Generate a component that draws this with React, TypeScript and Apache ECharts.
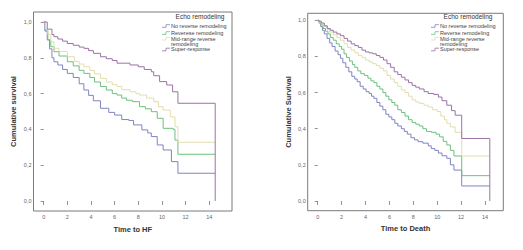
import React, { useEffect, useRef } from "react";
import * as echarts from "echarts";

// ---------- data ----------
const legendTitle = "Echo remodeling";
const hfGroupNames = ["No reverse remodeling", "Reverese remodeling", "Mid-range reverse\nremodeling", "Super-response"];
const deathGroupNames = ["No reverse remodeling", "Reverse remodeling", "Mid-range reverse\nremodeling", "Super-response"];
const groupColors = ["#7f84c2", "#6cc07e", "#e2dead", "#9b72a6"];

const xTicks = [0, 2, 4, 6, 8, 10, 12, 14];
const yTicks = [0, 0.2, 0.4, 0.6, 0.8, 1.0];

const hfXTitle = "Time to HF";
const hfYTitle = "Cumulative survival";
const deathXTitle = "Time to Death";
const deathYTitle = "Cumulative Survival";

// Time to HF
const hfNoReverse = [
  [0, 1.0], [0.1, 0.95], [0.3, 0.9], [0.5, 0.85], [0.7, 0.8], [0.87, 0.778], [1.2, 0.76], [1.6, 0.735],
  [2.0, 0.713], [2.5, 0.69], [3.0, 0.655], [3.4, 0.62], [3.8, 0.59], [4.2, 0.56], [4.8, 0.518], [5.5, 0.495],
  [6.0, 0.48], [6.6, 0.455], [7.2, 0.45], [7.6, 0.425], [8.3, 0.397], [8.8, 0.38], [9.1, 0.36], [9.6, 0.313],
  [10.1, 0.285], [10.8, 0.22], [11.35, 0.155], [14.5, 0.155],
];
const hfReverse = [
  [0, 1.0], [0.15, 0.95], [0.35, 0.9], [0.6, 0.862], [0.87, 0.834], [1.3, 0.81], [2.0, 0.778], [2.5, 0.755],
  [3.0, 0.73], [3.4, 0.713], [3.9, 0.69], [4.3, 0.665], [4.8, 0.64], [5.3, 0.62], [5.8, 0.6], [6.2, 0.592],
  [6.6, 0.575], [7.0, 0.563], [7.5, 0.555], [8.1, 0.527], [8.6, 0.515], [9.1, 0.499], [9.6, 0.462], [10.1, 0.406],
  [10.95, 0.4], [11.1, 0.34], [11.35, 0.261], [14.5, 0.261],
];
const hfMidRange = [
  [0, 1.0], [0.15, 0.96], [0.35, 0.93], [0.6, 0.89], [0.87, 0.853], [1.3, 0.835], [2.0, 0.806], [2.6, 0.78],
  [3.0, 0.765], [3.4, 0.75], [3.9, 0.73], [4.3, 0.71], [4.8, 0.685], [5.3, 0.665], [5.8, 0.65], [6.2, 0.64],
  [6.6, 0.622], [7.3, 0.61], [7.8, 0.6], [8.1, 0.592], [8.7, 0.575], [9.3, 0.555], [9.7, 0.527], [10.1, 0.508],
  [10.7, 0.47], [11.1, 0.415], [11.35, 0.328], [14.5, 0.328],
];
const hfSuper = [
  [0, 1.0], [0.3, 0.96], [0.7, 0.93], [0.87, 0.918], [1.2, 0.905], [1.6, 0.893], [2.0, 0.88], [2.5, 0.87],
  [3.0, 0.86], [3.4, 0.853], [3.8, 0.84], [4.2, 0.825], [4.8, 0.806], [5.3, 0.795], [5.8, 0.785], [6.2, 0.77],
  [7.3, 0.76], [8.0, 0.75], [8.5, 0.735], [9.1, 0.722], [9.3, 0.7], [9.8, 0.667], [10.4, 0.648], [10.9, 0.61],
  [11.35, 0.546], [14.5, 0.546], [14.5, 0],
];

// Time to Death
const deathNoReverse = [
  [0, 1.0], [0.1, 0.985], [0.25, 0.965], [0.4, 0.945], [0.55, 0.925], [0.78, 0.9], [1.0, 0.875], [1.2, 0.855],
  [1.45, 0.83], [1.7, 0.81], [1.9, 0.79], [2.1, 0.765], [2.35, 0.74], [2.6, 0.715], [2.85, 0.69], [3.1, 0.675],
  [3.3, 0.66], [3.55, 0.635], [3.8, 0.62], [4.05, 0.605], [4.3, 0.595], [4.5, 0.58], [4.7, 0.568], [4.95, 0.545],
  [5.2, 0.525], [5.45, 0.505], [5.7, 0.48], [5.95, 0.465], [6.2, 0.45], [6.45, 0.43], [6.7, 0.415], [7.0, 0.4],
  [7.25, 0.385], [7.5, 0.37], [7.8, 0.35], [8.1, 0.338], [8.4, 0.328], [8.8, 0.32], [9.25, 0.305], [9.5, 0.29],
  [9.8, 0.28], [10.1, 0.265], [10.4, 0.25], [10.8, 0.236], [11.1, 0.2], [11.4, 0.171], [12.05, 0.083], [14.4, 0.083],
];
const deathReverse = [
  [0, 1.0], [0.1, 0.99], [0.25, 0.975], [0.45, 0.955], [0.65, 0.94], [0.85, 0.925], [1.05, 0.905], [1.3, 0.89],
  [1.55, 0.87], [1.8, 0.855], [2.0, 0.84], [2.2, 0.815], [2.4, 0.795], [2.65, 0.775], [2.9, 0.755], [3.1, 0.74],
  [3.35, 0.72], [3.6, 0.705], [3.9, 0.695], [4.2, 0.68], [4.45, 0.665], [4.7, 0.655], [4.95, 0.635], [5.2, 0.62],
  [5.45, 0.6], [5.7, 0.58], [5.95, 0.56], [6.2, 0.545], [6.45, 0.53], [6.7, 0.505], [7.0, 0.49], [7.3, 0.47],
  [7.6, 0.45], [7.9, 0.435], [8.2, 0.425], [8.5, 0.415], [8.8, 0.4], [9.1, 0.385], [9.5, 0.38], [9.9, 0.37],
  [10.2, 0.355], [10.5, 0.33], [10.8, 0.31], [11.1, 0.28], [11.4, 0.249], [12.05, 0.14], [14.4, 0.14],
];
const deathMidRange = [
  [0, 1.0], [0.1, 0.99], [0.3, 0.98], [0.5, 0.965], [0.78, 0.95], [1.0, 0.935], [1.3, 0.92], [1.6, 0.905],
  [1.9, 0.89], [2.2, 0.87], [2.5, 0.85], [2.8, 0.835], [3.1, 0.82], [3.4, 0.805], [3.7, 0.795], [4.0, 0.78],
  [4.3, 0.77], [4.6, 0.76], [4.9, 0.75], [5.2, 0.735], [5.5, 0.72], [5.8, 0.695], [6.1, 0.675], [6.4, 0.655],
  [6.7, 0.635], [7.0, 0.615], [7.3, 0.6], [7.6, 0.58], [7.9, 0.56], [8.2, 0.548], [8.5, 0.54], [8.9, 0.53],
  [9.25, 0.52], [9.6, 0.505], [10.0, 0.495], [10.3, 0.47], [10.6, 0.45], [10.8, 0.43], [11.1, 0.41], [11.5, 0.38],
  [12.05, 0.249], [14.4, 0.249],
];
const deathSuper = [
  [0, 1.0], [0.1, 0.995], [0.3, 0.985], [0.55, 0.97], [0.8, 0.955], [1.05, 0.945], [1.3, 0.935], [1.6, 0.925],
  [1.9, 0.915], [2.2, 0.9], [2.5, 0.885], [2.8, 0.87], [3.1, 0.86], [3.4, 0.85], [3.7, 0.835], [4.0, 0.825],
  [4.3, 0.82], [4.6, 0.815], [4.9, 0.805], [5.2, 0.795], [5.5, 0.78], [5.8, 0.76], [6.1, 0.74], [6.4, 0.715],
  [6.7, 0.7], [7.0, 0.685], [7.3, 0.67], [7.6, 0.655], [7.9, 0.64], [8.2, 0.63], [8.5, 0.62], [8.9, 0.605],
  [9.25, 0.595], [9.7, 0.59], [10.1, 0.575], [10.4, 0.555], [10.8, 0.53], [11.2, 0.5], [11.5, 0.475],
  [12.05, 0.346], [14.4, 0.346], [14.4, 0],
];

const hfSeries = [hfNoReverse, hfReverse, hfMidRange, hfSuper];
const deathSeries = [deathNoReverse, deathReverse, deathMidRange, deathSuper];

// ---------- layout ----------
const FONT = "Liberation Sans, Arial, sans-serif";

function legendGraphics(names: string[], textX: number, titleX: number) {
  const rows = [26, 33, 38.7, 49.5];
  const els: any[] = [
    {
      type: "text",
      x: titleX,
      y: 16,
      style: { text: legendTitle, fontSize: 6.5, fontFamily: FONT, fill: "#333", align: "center", verticalAlign: "middle" },
      silent: true,
    },
  ];
  names.forEach((n, i) => {
    const y = rows[i];
    els.push({
      type: "polyline",
      shape: { points: [[textX - 9, y + 1.3], [textX - 5, y + 1.3], [textX - 5, y - 1.3], [textX - 1, y - 1.3]] },
      style: { stroke: groupColors[i], lineWidth: 0.8, fill: "none" },
      silent: true,
    });
    els.push({
      type: "text",
      x: textX,
      y: y - 2.8,
      style: { text: n, fontSize: 5.5, lineHeight: 5.2, fontFamily: FONT, fill: "#444", align: "left", verticalAlign: "top" },
      silent: true,
    });
  });
  return els;
}

function makeAxes(idx: number, xMin: number, xMax: number, yMin: number, yMax: number, xName: string, yName: string, xGap: number, yGap: number) {
  const tickStyle = { color: "#777", width: 0.8 };
  const x = {
    type: "value",
    gridIndex: idx,
    min: xMin,
    max: xMax,
    name: xName,
    nameLocation: "middle",
    nameGap: xGap,
    nameTextStyle: { fontSize: 7.5, fontWeight: "bold", color: "#333", fontFamily: FONT },
    axisLine: { show: false },
    splitLine: { show: false },
    axisTick: { show: true, length: 4, lineStyle: tickStyle, customValues: xTicks },
    axisLabel: { fontSize: 5.5, color: "#666", margin: 3, fontFamily: FONT, customValues: xTicks, formatter: (v: number) => String(v) },
  };
  const y = {
    type: "value",
    gridIndex: idx,
    min: yMin,
    max: yMax,
    name: yName,
    nameLocation: "middle",
    nameGap: yGap,
    nameTextStyle: { fontSize: 7.5, fontWeight: "bold", color: "#333", fontFamily: FONT },
    axisLine: { show: false },
    splitLine: { show: false },
    axisTick: { show: true, length: 3, lineStyle: tickStyle, customValues: yTicks },
    axisLabel: {
      fontSize: 5.5,
      color: "#666",
      margin: 2,
      fontFamily: FONT,
      customValues: yTicks,
      formatter: (v: number) => v.toFixed(1).replace(".", ","),
    },
  };
  return { x, y };
}

export default function App() {
  const ref = useRef<HTMLDivElement>(null);
  useEffect(() => {
    if (!ref.current) return;
    const chart = echarts.init(ref.current, undefined, { renderer: "svg" });
    const a1 = makeAxes(0, -0.86, 15.92, -0.056, 1.056, hfXTitle, hfYTitle, 14, 16.5);
    const a2 = makeAxes(1, -0.84, 15.53, -0.054, 1.039, deathXTitle, deathYTitle, 13, 15);
    const series: any[] = [];
    hfSeries.forEach((d, i) =>
      series.push({
        type: "line",
        name: hfGroupNames[i],
        xAxisIndex: 0,
        yAxisIndex: 0,
        data: d,
        step: "end",
        symbol: "none",
        silent: true,
        lineStyle: { color: groupColors[i], width: 1 },
      })
    );
    deathSeries.forEach((d, i) =>
      series.push({
        type: "line",
        name: deathGroupNames[i],
        xAxisIndex: 1,
        yAxisIndex: 1,
        data: d,
        step: "end",
        symbol: "none",
        silent: true,
        lineStyle: { color: groupColors[i], width: 1 },
      })
    );
    chart.setOption({
      animation: false,
      backgroundColor: "#fff",
      grid: [
        { left: 33.5, top: 12, width: 198.5, height: 199, show: true, borderColor: "#7a7a7a", borderWidth: 1, backgroundColor: "transparent" },
        { left: 307.7, top: 13.3, width: 195.6, height: 197.4, show: true, borderColor: "#7a7a7a", borderWidth: 1, backgroundColor: "transparent" },
      ],
      xAxis: [a1.x, a2.x],
      yAxis: [a1.y, a2.y],
      series,
      graphic: [...legendGraphics(hfGroupNames, 171, 200), ...legendGraphics(deathGroupNames, 440, 468)],
    });
    return () => chart.dispose();
  }, []);
  return <div ref={ref} style={{ position: "absolute", left: 0, top: 0, width: 523, height: 250 }} />;
}
